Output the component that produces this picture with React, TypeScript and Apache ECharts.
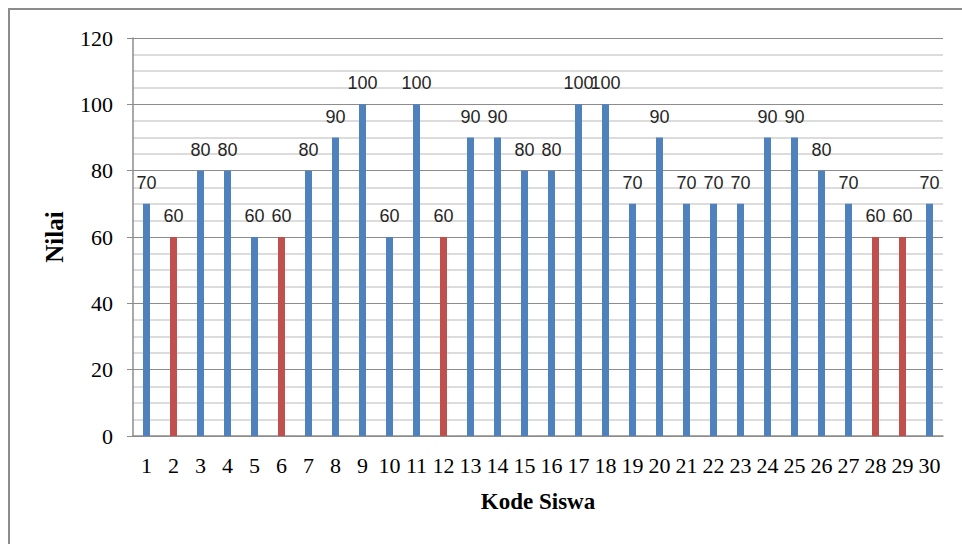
import React, { useEffect, useRef } from "react";
import * as echarts from "echarts";

const categories: string[] = Array.from({ length: 30 }, (_, i) => String(i + 1));
const nilai: number[] = [
  70, 60, 80, 80, 60, 60, 80, 90, 100, 60,
  100, 60, 90, 90, 80, 80, 100, 100, 70, 90,
  70, 70, 70, 90, 90, 80, 70, 60, 60, 70,
];
const redCodes: string[] = ["2", "6", "12", "28", "29"];
const yTicks: number[] = [0, 20, 40, 60, 80, 100, 120];

const BLUE = "#4F81BD";
const RED = "#C0504D";

export default function App() {
  const ref = useRef<HTMLDivElement>(null);
  useEffect(() => {
    if (!ref.current) return;
    const chart = echarts.init(ref.current, null, { renderer: "svg" });
    chart.setOption({
      animation: false,
      backgroundColor: "#ffffff",
      graphic: [
        {
          type: "rect",
          shape: { x: 9, y: 9, width: 1100, height: 700 },
          style: { fill: "none", stroke: "#8c8c8c", lineWidth: 2 },
          silent: true,
        },
      ],
      grid: { left: 133, top: 38, right: 19, bottom: 108, containLabel: false },
      xAxis: {
        type: "category",
        data: categories,
        name: "Kode Siswa",
        nameLocation: "middle",
        nameGap: 54,
        nameTextStyle: {
          fontFamily: "Liberation Serif",
          fontWeight: "bold",
          fontSize: 23,
          color: "#000",
        },
        axisLine: { lineStyle: { color: "#8c8c8c", width: 1.5 } },
        axisTick: { show: false },
        axisLabel: {
          interval: 0,
          margin: 18,
          fontFamily: "Liberation Serif",
          fontSize: 22,
          color: "#000",
        },
        splitLine: { show: false },
      },
      yAxis: {
        type: "value",
        min: yTicks[0],
        max: yTicks[yTicks.length - 1],
        interval: 20,
        name: "Nilai",
        nameLocation: "middle",
        nameGap: 66,
        nameTextStyle: {
          fontFamily: "Liberation Serif",
          fontWeight: "bold",
          fontSize: 25,
          color: "#000",
        },
        axisLine: { show: true, lineStyle: { color: "#8c8c8c", width: 1.5 } },
        axisTick: { show: true, length: 6, inside: false, lineStyle: { color: "#8c8c8c" } },
        axisLabel: {
          margin: 20,
          fontFamily: "Liberation Serif",
          fontSize: 22,
          color: "#000",
        },
        splitLine: { show: true, lineStyle: { color: "#8c8c8c", width: 1.2 } },
        minorTick: { show: false, splitNumber: 4 },
        minorSplitLine: { show: true, lineStyle: { color: "#d0d0d0", width: 1.5 } },
      },
      series: [
        {
          type: "bar",
          barWidth: 7,
          data: nilai.map((v, i) => ({
            value: v,
            itemStyle: { color: redCodes.includes(categories[i]) ? RED : BLUE },
          })),
          label: {
            show: true,
            position: "top",
            distance: 12,
            fontFamily: "Liberation Sans",
            fontSize: 18,
            color: "#262626",
          },
        },
      ],
    });
    return () => chart.dispose();
  }, []);
  return (
    <div
      ref={ref}
      style={{ position: "fixed", left: 0, top: 0, width: 962, height: 544 }}
    />
  );
}
